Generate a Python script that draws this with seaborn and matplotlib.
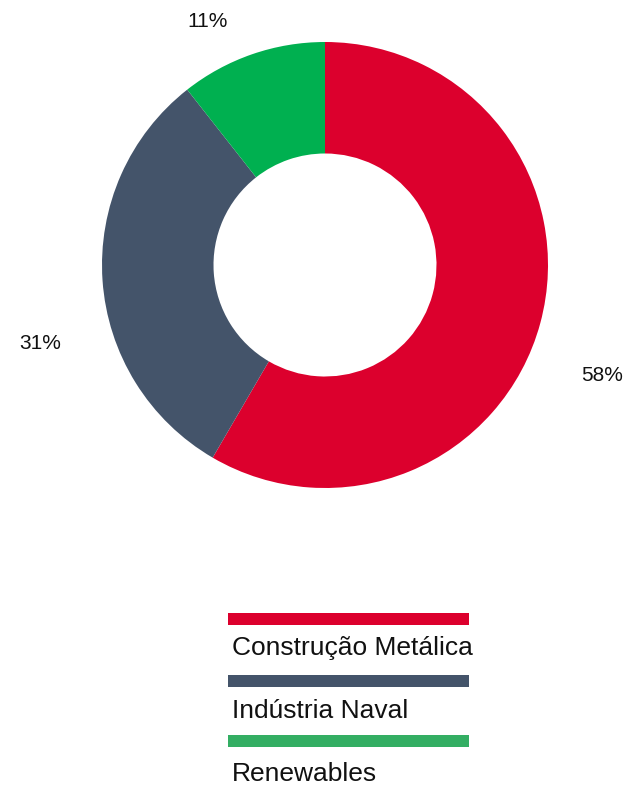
import numpy as np
import matplotlib.pyplot as plt
import seaborn as sns
from matplotlib.patches import Rectangle

sns.set_theme(style="white")
plt.rcParams['font.family'] = ['Liberation Sans', 'DejaVu Sans']

categories = ['Construção Metálica', 'Indústria Naval', 'Renewables']
shares = [58.4, 31.0, 10.6]
pct_labels = ['58%', '31%', '11%']
colors = ['#DC002D', '#44546A', '#00B050']
legend_colors = ['#DC002D', '#44546A', '#33AE63']

W, H = 628, 785
fig = plt.figure(figsize=(W / 100, H / 100), dpi=100)

# donut: centre (325, 265) px, radius 223 px
cx, cy, R = 325, 265, 223
ax = fig.add_axes([(cx - R) / W, 1 - (cy + R) / H, 2 * R / W, 2 * R / H])
wedges, _ = ax.pie(shares, colors=colors, startangle=90, counterclock=False,
                   radius=1, wedgeprops=dict(width=0.5, linewidth=0))
ax.set_xlim(-1, 1)
ax.set_ylim(-1, 1)
ax.set_aspect('equal')
ax.axis('off')

# percentage labels placed outside, nudged like the original
nudges = [-6.6, 11.4, 6.6]
dists = [1.336, 1.323, 1.211]
for w, lab, nd, d in zip(wedges, pct_labels, nudges, dists):
    ang = np.deg2rad((w.theta1 + w.theta2) / 2 + nd)
    ax.text(d * np.cos(ang), d * np.sin(ang), lab, ha='center', va='center',
            fontsize=15, color='#111111', clip_on=False)

# legend: coloured bar above each label
lax = fig.add_axes([0, 0, 1, 1])
lax.set_xlim(0, W)
lax.set_ylim(H, 0)
lax.axis('off')
bar_tops = [613, 674.5, 735]
baselines = [655, 718, 781]
for cat, col, top, base in zip(categories, legend_colors, bar_tops, baselines):
    lax.add_patch(Rectangle((228, top), 241, 12, color=col, lw=0))
    lax.text(232, base, cat, ha='left', va='baseline', fontsize=19, color='#111111')

fig.savefig('out.png', dpi=100, facecolor='white')
